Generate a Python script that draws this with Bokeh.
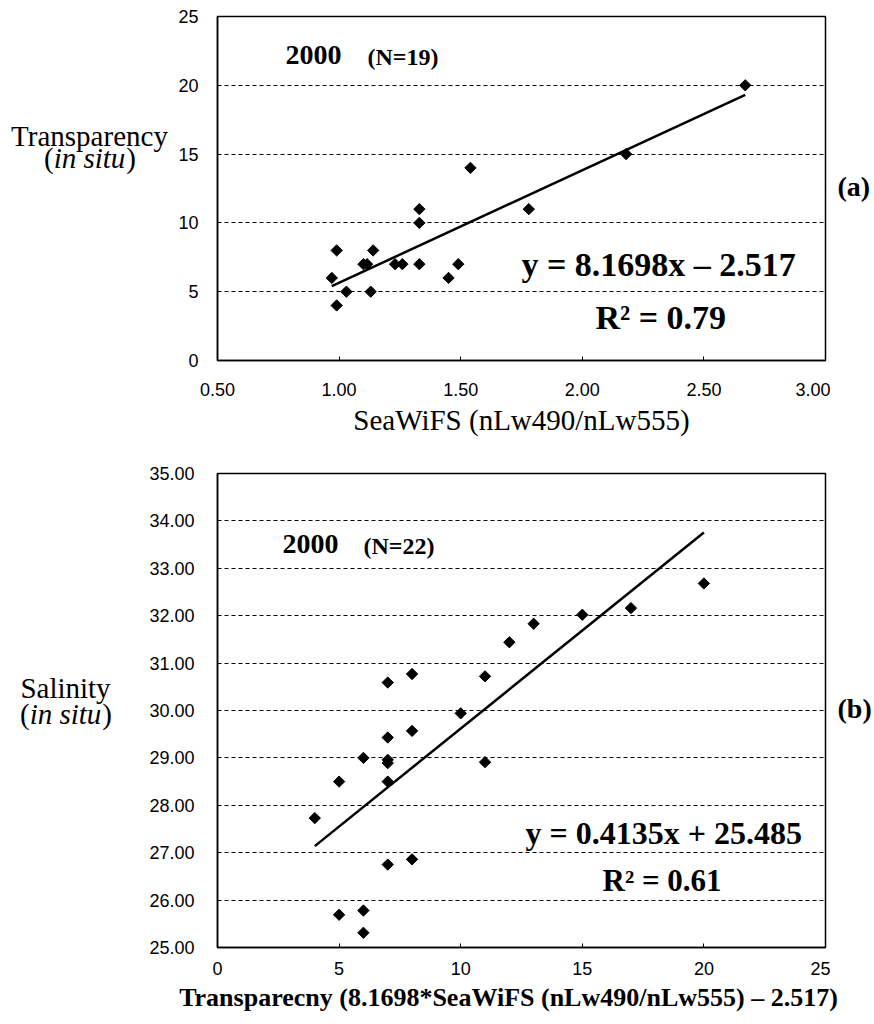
import math
from bokeh.plotting import figure
from bokeh.models import Label, FixedTicker, NumeralTickFormatter, Range1d
from bokeh.layouts import column, row
from bokeh.embed import file_html
from bokeh.resources import INLINE

# ---------------- data ----------------
# (a) Transparency (in situ) vs SeaWiFS ratio, 2000 (N=19)
seawifs_ratio = [0.97, 0.99, 0.99, 1.03, 1.10, 1.115, 1.14, 1.13, 1.23, 1.26,
                 1.33, 1.33, 1.33, 1.45, 1.49, 1.54, 1.78, 2.18, 2.67]
transparency_a = [6, 8, 4, 5, 7, 7, 8, 5, 7, 7,
                  11, 10, 7, 6, 7, 14, 11, 15, 20]
fit_a_slope, fit_a_intercept = 8.1698, -2.517

# (b) Salinity (in situ) vs estimated transparency, 2000 (N=22)
transparency_b = [4, 5, 5, 6, 6, 6, 7, 7, 7, 7, 7, 7,
                  8, 8, 8, 10, 11, 11, 12, 13, 15, 17, 20]
salinity_b = [27.73, 28.50, 25.69, 29.00, 25.78, 25.31, 30.59, 29.43, 28.96, 28.89, 28.50, 26.75,
              30.77, 29.57, 26.86, 29.94, 30.72, 28.91, 31.44, 31.83, 32.02, 32.16, 32.68]
fit_b_slope, fit_b_intercept = 0.4135, 25.485

ticks_a_x = [0.5, 1.0, 1.5, 2.0, 2.5, 3.0]
ticks_a_y = [0, 5, 10, 15, 20, 25]
ticks_b_x = [0, 5, 10, 15, 20, 25]
ticks_b_y = [25, 26, 27, 28, 29, 30, 31, 32, 33, 34, 35]

SERIF = "Liberation Serif"
SANS = "Liberation Sans"

FRAME_L, FRAME_W = 217, 608
RIGHT_X, RIGHT_W = 830, 42
FULL_W = RIGHT_X + RIGHT_W


def make_main(xr, yr, ox, oy, frame_top, frame_h, height, xticks, yticks,
              xfmt, yfmt, xstand, ystand):
    bl = FRAME_L - ox
    width = RIGHT_X - ox
    p = figure(width=width, height=height, output_backend="svg", toolbar_location=None,
               x_range=Range1d(*xr), y_range=Range1d(*yr),
               min_border_left=bl, min_border_top=frame_top - oy,
               min_border_right=width - bl - FRAME_W,
               min_border_bottom=height - (frame_top - oy) - frame_h,
               background_fill_color="white", border_fill_color="white")
    p.outline_line_color = "black"
    p.outline_line_width = 1.5
    p.xgrid.visible = False
    p.ygrid.grid_line_color = "black"
    p.ygrid.grid_line_dash = "4 3"
    p.ygrid.grid_line_width = 1
    p.xaxis.ticker = FixedTicker(ticks=xticks)
    p.yaxis.ticker = FixedTicker(ticks=yticks)
    p.xaxis.formatter = NumeralTickFormatter(format=xfmt)
    p.yaxis.formatter = NumeralTickFormatter(format=yfmt)
    for ax in (p.xaxis, p.yaxis):
        ax.axis_line_color = "black"
        ax.axis_line_width = 1.5
        ax.major_tick_line_color = "black"
        ax.minor_tick_line_color = None
        ax.major_label_text_font = SANS
        ax.major_label_text_font_size = "18px"
        ax.major_label_text_color = "black"
    p.xaxis.major_tick_in = 4
    p.xaxis.major_tick_out = 0
    p.yaxis.major_tick_in = 0
    p.yaxis.major_tick_out = 0
    p.xaxis.major_label_standoff = xstand
    p.yaxis.major_label_standoff = ystand
    g = dict(kind="main", xr=xr, yr=yr, ft=frame_top, fh=frame_h)
    return p, g


def make_text_fig(ox, oy, width, height):
    f = figure(width=width, height=height, output_backend="svg", toolbar_location=None,
               x_range=Range1d(0, width), y_range=Range1d(0, height), min_border=0,
               background_fill_color="white", border_fill_color="white")
    f.axis.visible = False
    f.grid.visible = False
    f.outline_line_color = None
    g = dict(kind="text", ox=ox, oy=oy, h=height)
    return f, g


def lab(p, g, text, px, py, size, style="normal", align="left", font=SERIF):
    # px, py: positions on the page picture, converted to the figure's units
    if g["kind"] == "main":
        x = g["xr"][0] + (px - FRAME_L) / FRAME_W * (g["xr"][1] - g["xr"][0])
        y = g["yr"][1] - (py - g["ft"]) / g["fh"] * (g["yr"][1] - g["yr"][0])
    else:
        x = px - g["ox"]
        y = g["h"] - (py - g["oy"])
    p.add_layout(Label(x=x, y=y, text=text, text_font=font, text_font_size=f"{size}px",
                       text_font_style=style, text_align=align, text_baseline="middle",
                       text_color="black"))


def in_situ(p, g, cx, py, size):
    w_par = 0.333 * size
    w_it = 2.473 * size
    left = cx - (2 * w_par + w_it) / 2
    lab(p, g, "(", left, py, size)
    lab(p, g, "in situ", left + w_par, py, size, style="italic")
    lab(p, g, ")", left + w_par + w_it + 1, py, size)


# ---------------- (a) ----------------
H1 = 448
LA = 170
p1, g1 = make_main((0.5, 3.0), (0, 25), LA, 0, 16, 344, H1,
                   ticks_a_x, ticks_a_y, "0.00", "0", 22, 19)
p1.scatter(seawifs_ratio, transparency_a, marker="square", angle=math.pi / 4,
           size=8, color="black")
xa = [min(seawifs_ratio), max(seawifs_ratio)]
p1.line(xa, [fit_a_slope * v + fit_a_intercept for v in xa], line_color="black", line_width=2.5)
p1.xaxis.axis_label = "SeaWiFS (nLw490/nLw555)"
p1.xaxis.axis_label_text_font = SERIF
p1.xaxis.axis_label_text_font_size = "29px"
p1.xaxis.axis_label_text_font_style = "normal"
p1.xaxis.axis_label_text_color = "black"
p1.xaxis.axis_label_standoff = 5

lab(p1, g1, "2000", 285, 54, 28, "bold")
lab(p1, g1, "(N=19)", 367, 56, 24, "bold")
lab(p1, g1, "y = 8.1698x \u2013 2.517", 521, 264, 34, "bold")
lab(p1, g1, "R\u00b2 = 0.79", 595, 317, 34, "bold")

l1, gl1 = make_text_fig(0, 0, LA, H1)
lab(l1, gl1, "Transparency", 89, 155, 29, align="center")
in_situ(l1, gl1, 89, 184, 29)

r1, gr1 = make_text_fig(RIGHT_X, 0, RIGHT_W, H1)
lab(r1, gr1, "(a)", 837, 222, 28, "bold")

# ---------------- (b) ----------------
H2 = 535
LB = 140
p2, g2 = make_main((0, 25), (25, 35), LB, H1, 473, 474, H2,
                   ticks_b_x, ticks_b_y, "0", "0.00", 14, 23)
p2.scatter(transparency_b, salinity_b, marker="square", angle=math.pi / 4,
           size=8, color="black")
xb = [min(transparency_b), max(transparency_b)]
p2.line(xb, [fit_b_slope * v + fit_b_intercept for v in xb], line_color="black", line_width=2.5)

lab(p2, g2, "2000", 282, 543, 28, "bold")
lab(p2, g2, "(N=22)", 363, 545, 24, "bold")
lab(p2, g2, "y = 0.4135x + 25.485", 525, 832, 32, "bold")
lab(p2, g2, "R\u00b2 = 0.61", 602, 880, 31, "bold")

l2, gl2 = make_text_fig(0, H1, LB, H2)
lab(l2, gl2, "Salinity", 65, 690, 29, align="center")
in_situ(l2, gl2, 65, 720, 29)

r2, gr2 = make_text_fig(RIGHT_X, H1, RIGHT_W, H2)
lab(r2, gr2, "(b)", 837, 713, 28, "bold")

# x-axis title of (b), wider than the plot, in its own strip
TOP_T = H1 + H2
t2, gt2 = make_text_fig(0, TOP_T, FULL_W, 36)
lab(t2, gt2, "Transparecny (8.1698*SeaWiFS (nLw490/nLw555) \u2013 2.517)", 508, 997, 26,
    "bold", align="center")

layout = column(row(l1, p1, r1, spacing=0), row(l2, p2, r2, spacing=0), t2, spacing=0)
open("out.html", "w").write(file_html(layout, INLINE))
